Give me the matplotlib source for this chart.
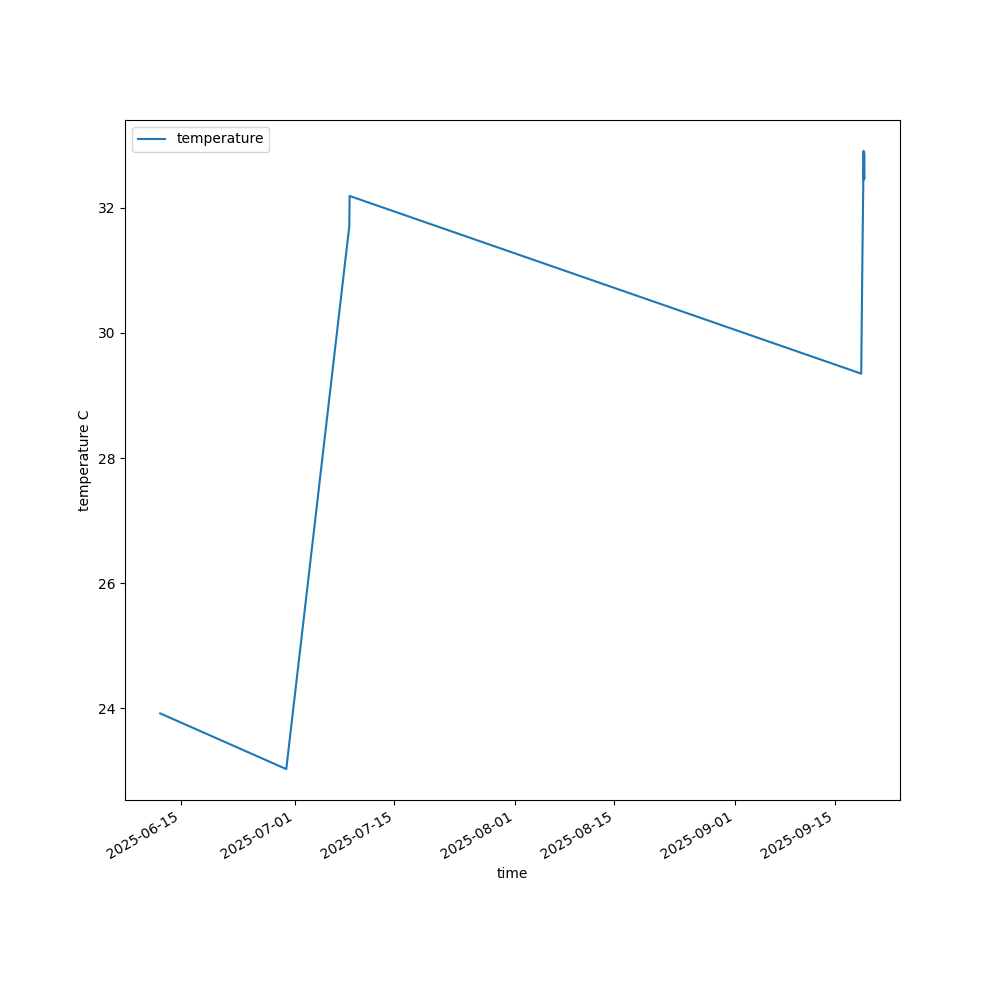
# Temperature readings over time, line chart with date axis

import matplotlib
matplotlib.use("Agg")
import matplotlib.pyplot as plt
import pandas as pd

# readings
times = [
    "2025-06-12 01:00", "2025-06-29 19:00", "2025-07-08 16:00",
    "2025-07-08 17:00", "2025-09-18 18:00", "2025-09-18 22:00",
    "2025-09-19 01:00", "2025-09-19 02:00", "2025-09-19 03:00",
    "2025-09-19 04:00", "2025-09-19 05:00", "2025-09-19 06:00",
]
temps = [23.92, 23.03, 31.71, 32.19, 29.35, 31.2, 32.40, 32.91, 32.45,
         32.88, 32.50, 32.48]

times = pd.to_datetime(times)

fig, ax = plt.subplots(figsize=(10, 10), dpi=100)
ax.plot(times, temps, label="temperature")
ax.set_xlabel("time")
ax.set_ylabel("temperature C")
ax.legend(loc="upper left")
fig.autofmt_xdate()

fig.savefig("out.png")
